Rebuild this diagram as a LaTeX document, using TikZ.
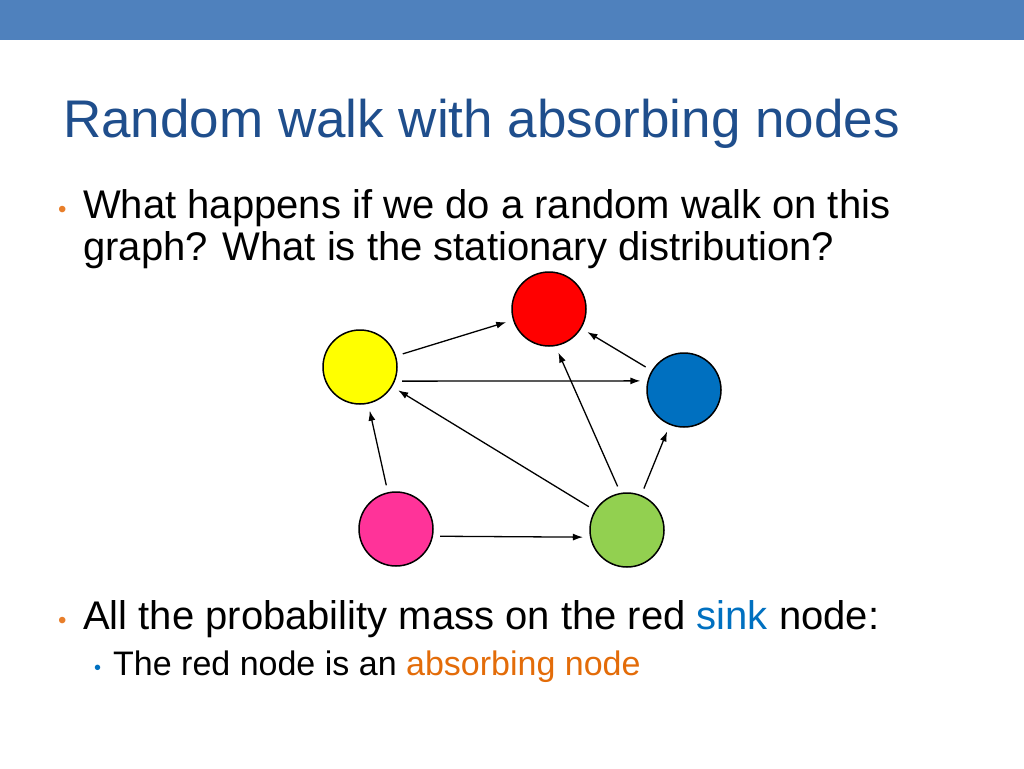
\documentclass[tikz,border=0pt]{standalone}
\usepackage{fontspec}
\setmainfont{Liberation Sans}
\usetikzlibrary{arrows.meta}
\definecolor{bar}{HTML}{4F81BD}
\definecolor{ttl}{HTML}{1F4E8C}
\definecolor{org}{HTML}{E87E2A}
\definecolor{snk}{HTML}{0070C0}
\definecolor{abs}{HTML}{E36C09}
\begin{document}
\begin{tikzpicture}[x=1pt,y=-1pt,
  gnode/.style={circle,draw=black,line width=1.5pt,minimum size=74pt,inner sep=0pt},
  arr/.style={-{Latex[length=10pt,width=7pt]},line width=1.3pt,shorten <=7pt,shorten >=7pt},
  txt/.style={anchor=base west,inner sep=0pt}]
\useasboundingbox (0,0) rectangle (1024,768);
\fill[bar] (0,0) rectangle (1024,40);
\node[txt,text=ttl,font=\fontsize{53}{56}\selectfont] (title) at (63,137) {Random walk with absorbing nodes};
\node[txt,text=org,font=\fontsize{24}{28}\selectfont] (b1) at (58,217) {•};
\node[txt,font=\fontsize{40}{44}\selectfont] (l1) at (83,218) {What happens if we do a random walk on this};
\node[txt,font=\fontsize{40}{44}\selectfont] (l2) at (83,260) {graph? What is the stationary distribution?};
\node[gnode,fill={rgb,255:red,255;green,255;blue,0}] (Y) at (360,367) {};
\node[gnode,fill={rgb,255:red,255;green,0;blue,0}] (R) at (549,309) {};
\node[gnode,fill={rgb,255:red,0;green,112;blue,192}] (B) at (684,390) {};
\node[gnode,fill={rgb,255:red,255;green,51;blue,153}] (P) at (396,529) {};
\node[gnode,fill={rgb,255:red,146;green,208;blue,80}] (G) at (627,530) {};
\draw[arr] (Y) -- (R);
\draw[arr] (B) -- (R);
\draw[arr] (Y.-22) -- (B.166);
\draw[arr] (G) -- (Y);
\draw[arr] (G.100) -- (R.-80);
\draw[arr] (G) -- (B);
\draw[arr] (P) -- (Y);
\draw[arr] (P.-11) -- (G.-169);
\node[txt,text=org,font=\fontsize{24}{28}\selectfont] (b2) at (58,628) {•};
\node[txt,font=\fontsize{40}{44}\selectfont] (l3) at (83,629) {All the probability mass on the red \textcolor{snk}{sink} node:};
\node[txt,text=snk,font=\fontsize{20}{24}\selectfont] (b3) at (94,674) {•};
\node[txt,font=\fontsize{34}{38}\selectfont] (l4) at (113,675) {The red node is an \textcolor{abs}{absorbing node}};
\end{tikzpicture}
\end{document}
